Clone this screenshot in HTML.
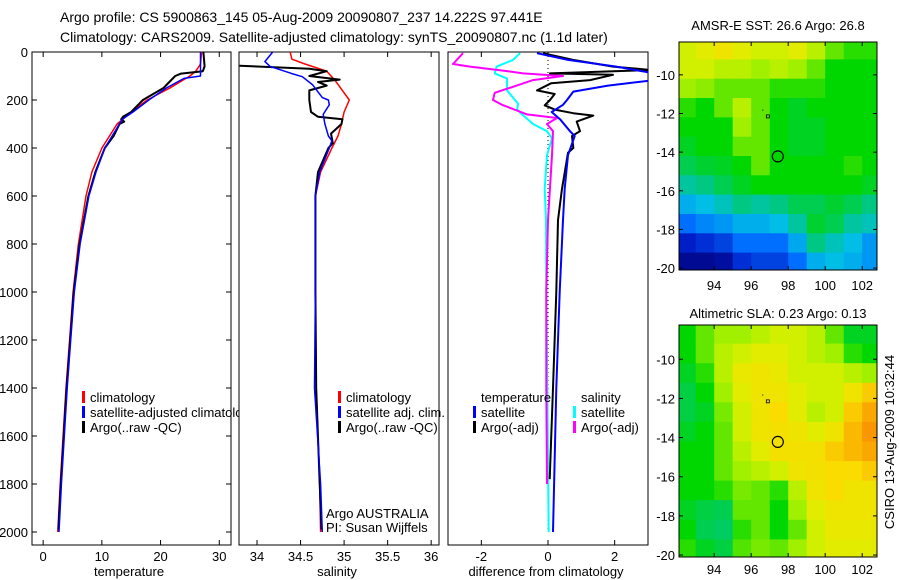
<!DOCTYPE html>
<html><head><meta charset="utf-8">
<style>
html,body{margin:0;padding:0;background:#fff;}
svg{display:block;font-family:"Liberation Sans",sans-serif;}
</style></head>
<body>
<svg id="fig" width="900" height="580" viewBox="0 0 900 580" xmlns="http://www.w3.org/2000/svg">
<text x="60" y="22" font-size="14">Argo profile: CS 5900863_145 05-Aug-2009 20090807_237 14.222S 97.441E</text>
<text x="60" y="42" font-size="14">Climatology: CARS2009. Satellite-adjusted climatology: synTS_20090807.nc (1.1d later)</text>
<g id="layer"></g>
</svg>
<script>
// ---------- data ----------
const tempDepthClim = [0,50,80,100,150,200,250,300,400,500,600,800,1000,1200,1400,1600,1800,2000];
const tempClim      = [27,26.8,26,25,21.6,17.7,15,12.6,10,8.3,7.3,6,5.1,4.5,3.9,3.4,2.9,2.5];
const tempDepthSat  = [0,100,110,150,200,250,280,400,500,600,800,1000,1200,1400,1600,1800,2000];
const tempSat       = [26.8,26.8,24,21,18,15.3,13.5,10.5,9,7.8,6.3,5.3,4.7,4.1,3.6,3.1,2.7];
const tempDepthArgo = [0,60,80,90,100,150,200,250,270,280,290,300,350,400,500,600,800,1000,1200,1400,1600,1800,1990];
const tempArgo      = [27.3,27.5,27.2,23.5,22.5,20.5,17,15,13.6,13.3,13.8,13,12,10.5,8.9,7.7,6.2,5.2,4.6,4,3.5,3,2.6];

const salDepthClim = [0,30,50,80,120,170,200,250,300,350,400,500,600,800,1000,1400,1800,2000];
const salClim      = [34.38,34.4,34.55,34.8,34.9,35.0,35.06,35.0,34.97,34.93,34.86,34.73,34.67,34.67,34.67,34.68,34.72,34.73];
const salDepthSat  = [0,40,60,90,103,137,190,200,220,260,300,350,370,400,500,600,1000,1400,1800,2000];
const salSat       = [34.18,34.09,34.15,34.4,34.52,34.64,34.75,34.82,34.83,34.76,34.78,34.82,34.86,34.83,34.72,34.67,34.67,34.66,34.73,34.75];
const salDepthArgo = [57,70,80,100,115,125,140,160,200,250,270,280,300,340,380,400,500,600,1000,1400,1800,1990];
const salArgo      = [33.8,34.6,34.8,34.6,34.95,34.7,34.8,34.6,34.6,34.62,34.7,34.98,34.97,34.85,34.87,34.82,34.7,34.67,34.67,34.68,34.72,34.74];

const dTempSatDepth = [5,33,60,89,117,140,165,200,220,250,280,330,350,430,570,700,1000,1400,2000];
const dTempSat      = [-0.33,0.6,2.0,3.2,3.2,1.8,0.76,0.57,0.45,0.11,0.36,0.66,0.8,0.6,0.5,0.45,0.35,0.25,0.15];
const dTempArgoDepth = [5,33,61,75,89,95,117,130,160,175,200,222,240,255,265,290,330,350,400,420,570,700,1000,1400,1780];
const dTempArgo      = [-0.15,0.75,1.95,3.1,0.06,1.95,1.26,0.1,-0.33,0.2,0.06,-0.1,0.2,0.76,1.36,0.86,0.96,0.72,0.76,0.6,0.42,0.3,0.25,0.15,0.05];
const dSalSatDepth = [5,33,61,89,110,160,190,215,240,260,300,330,360,430,570,700,1000,1400,2000];
const dSalSat      = [-0.84,-1.05,-1.54,-1.6,-1.23,-1.23,-1.05,-0.9,-0.92,-0.78,-0.45,-0.03,0.12,-0.03,-0.1,-0.06,-0.05,-0.02,0.02];
const dSalArgoDepth = [5,50,61,80,89,100,117,145,170,200,220,260,275,300,330,430,700,1000,1400,1800];
const dSalArgo      = [-2.55,-2.85,-2.34,-1.2,-0.75,0.45,-0.45,-1.05,-1.6,-1.65,-1.38,-0.63,0.27,-0.03,0.15,0.12,0.0,-0.05,-0.05,-0.03];

const depthTicks = [0,200,400,600,800,1000,1200,1400,1600,1800,2000];
const tempTicks = [0,10,20,30];
const salTicks = [34,34.5,35,35.5,36];
const salTickLabels = ["34","34.5","35","35.5","36"];
const diffTicks = [-2,0,2];
const lonTicks = [94,96,98,100,102];
const latTicks = [-10,-12,-14,-16,-18,-20];
const mapLons = [92.5,93.5,94.5,95.5,96.5,97.5,98.5,99.5,100.5,101.5,102.5];
const mapLats = [-8.7,-9.7,-10.7,-11.7,-12.7,-13.7,-14.7,-15.7,-16.7,-17.7,-18.7,-19.7];
const sstGrid = [
[.62,.64,.66,.64,.62,.62,.64,.6,.55,.52,.52],
[.62,.62,.6,.6,.58,.6,.58,.55,.5,.5,.5],
[.58,.57,.55,.55,.55,.52,.52,.52,.5,.5,.5],
[.52,.5,.55,.6,.55,.5,.48,.5,.5,.5,.5],
[.5,.5,.5,.58,.55,.5,.48,.48,.5,.5,.5],
[.48,.5,.5,.55,.55,.5,.48,.48,.5,.5,.5],
[.45,.47,.48,.5,.55,.5,.5,.5,.5,.52,.5],
[.4,.42,.45,.48,.5,.5,.5,.5,.5,.5,.48],
[.33,.35,.38,.42,.4,.42,.45,.45,.47,.45,.42],
[.25,.28,.3,.33,.33,.35,.4,.47,.45,.4,.38],
[.12,.15,.18,.25,.25,.25,.32,.42,.38,.35,.3],
[.04,.04,.06,.15,.18,.18,.25,.33,.35,.33,.3]];
const slaGrid = [
[.5,.55,.58,.58,.6,.62,.62,.6,.55,.48,.48],
[.5,.55,.6,.62,.64,.64,.62,.6,.58,.52,.5],
[.48,.52,.6,.65,.66,.65,.62,.62,.62,.6,.58],
[.46,.5,.58,.64,.66,.66,.64,.62,.62,.66,.7],
[.46,.48,.56,.62,.66,.68,.64,.6,.62,.7,.74],
[.48,.5,.55,.62,.66,.67,.66,.64,.66,.72,.76],
[.5,.5,.55,.6,.64,.67,.67,.67,.7,.72,.74],
[.5,.5,.55,.58,.6,.62,.66,.67,.68,.68,.7],
[.5,.5,.52,.56,.55,.52,.6,.66,.68,.66,.66],
[.48,.46,.45,.55,.55,.5,.58,.64,.66,.66,.66],
[.5,.45,.44,.52,.55,.5,.55,.62,.65,.65,.65],
[.52,.48,.46,.54,.56,.55,.58,.62,.64,.64,.64]];
const argoPos = [97.44,-14.22];

// ---------- drawing ----------
const NS="http://www.w3.org/2000/svg";
const L=document.getElementById('layer');
function mk(tag,attrs,parent){const e=document.createElementNS(NS,tag);for(const k in attrs)e.setAttribute(k,attrs[k]);(parent||L).appendChild(e);return e;}
function txt(x,y,s,size,anchor,name){const t=mk('text',{x:x,y:y,'font-size':size,'text-anchor':anchor||'start'});t.textContent=s;


return t;}
const Y=d=>52+d*0.24;
const TOP=52,BOT=545;

function panel(x0,x1,xmin,xmax,name){
  const sx=v=>x0+(v-xmin)/(xmax-xmin)*(x1-x0);
  const r=mk('rect',{x:x0,y:TOP,width:x1-x0,height:BOT-TOP,fill:'#fff',stroke:'#000','stroke-width':1});
  
  
  return sx;
}
function line(sx,depths,vals,color,w,name,clip){
  const pts=depths.map((d,i)=>sx(vals[i]).toFixed(1)+','+Y(d).toFixed(1)).join(' ');
  const p=mk('polyline',{points:pts,fill:'none',stroke:color,'stroke-width':w,'stroke-linejoin':'round'});
  if(clip)p.setAttribute('clip-path','url(#'+clip+')');
  
  
}
function xticks(sx,ticks,labels,name){
  ticks.forEach((t,i)=>{const x=sx(t);
    mk('line',{x1:x,x2:x,y1:BOT,y2:BOT-5,stroke:'#000'});
    mk('line',{x1:x,x2:x,y1:TOP,y2:TOP+5,stroke:'#000'});
    txt(x,561,labels?labels[i]:String(t),13,'middle',name+'-tick-label');});
}
function legendEntry(x,y,color,label,name){
  const b=mk('rect',{x:x,y:y-11,width:3,height:12,fill:color});
  
  
  if(label)txt(x+8,y,label,13,'start',name);
}
const defs=mk('defs',{});

// Panel 1 temperature
const sxT=panel(32,231,-1.9,32,'temperature-panel');
depthTicks.forEach(d=>{const y=Y(d);
  mk('line',{x1:32,x2:37,y1:y,y2:y,stroke:'#000'});mk('line',{x1:231,x2:226,y1:y,y2:y,stroke:'#000'});
  txt(28,y+5,String(d),13,'end','depth-tick-label');});
xticks(sxT,tempTicks,null,'temperature-axis');
line(sxT,tempDepthClim,tempClim,'#f00',1.5,'temperature-climatology-line');
line(sxT,tempDepthArgo,tempArgo,'#000',2,'temperature-argo-line');
line(sxT,tempDepthSat,tempSat,'#00f',1.5,'temperature-satellite-line');
legendEntry(82,402,'#f00','climatology','legend-climatology');
legendEntry(82,417,'#00f','satellite-adjusted climatology','legend-satellite-adjusted');
legendEntry(82,432,'#000','Argo(..raw -QC)','legend-argo-raw');
txt(129,576,'temperature',13,'middle','x-axis-title-temperature');

// Panel 2 salinity
const sxS=panel(239,439,33.793,36.09,'salinity-panel');
mk('clipPath',{id:'c2'},defs);mk('rect',{x:239,y:52,width:200,height:493},defs.lastChild);
xticks(sxS,salTicks,salTickLabels,'salinity-axis');
line(sxS,salDepthClim,salClim,'#f00',1.5,'salinity-climatology-line','c2');
line(sxS,salDepthArgo,salArgo,'#000',2,'salinity-argo-line','c2');
line(sxS,salDepthSat,salSat,'#00f',1.5,'salinity-satellite-line','c2');
legendEntry(338,402,'#f00','climatology','legend-sal-climatology');
legendEntry(338,417,'#00f','satellite adj. clim.','legend-sal-satellite');
legendEntry(338,432,'#000','Argo(..raw -QC)','legend-sal-argo');
txt(326,518,'Argo AUSTRALIA',13,'start','argo-australia-label');
txt(326,532,'PI: Susan Wijffels',13,'start','pi-label');
txt(337,576,'salinity',13,'middle','x-axis-title-salinity');

// Panel 3 difference
const sxD=panel(448,648,-3,3,'difference-panel');
mk('clipPath',{id:'c3'},defs);mk('rect',{x:448,y:52,width:200,height:493},defs.lastChild);
xticks(sxD,diffTicks,null,'difference-axis');
const z=mk('line',{x1:sxD(0),x2:sxD(0),y1:Y(0),y2:Y(2000),stroke:'#000','stroke-dasharray':'1,3'});


line(sxD,dSalSatDepth,dSalSat,'#0ff',2,'salinity-satellite-diff-line','c3');
line(sxD,dSalArgoDepth,dSalArgo,'#f0f',2,'salinity-argo-diff-line','c3');
line(sxD,dTempArgoDepth,dTempArgo,'#000',2,'temperature-argo-diff-line','c3');
line(sxD,dTempSatDepth,dTempSat,'#00f',2,'temperature-satellite-diff-line','c3');
txt(481,402,'temperature',13,'start','legend-temperature-header');
legendEntry(473,417,'#00f','satellite','legend-temp-satellite');
legendEntry(473,432,'#000','Argo(-adj)','legend-temp-argo');
txt(581,402,'salinity',13,'start','legend-salinity-header');
legendEntry(573,417,'#0ff','satellite','legend-sal-sat-diff');
legendEntry(573,432,'#f0f','Argo(-adj)','legend-sal-argo-diff');
txt(546,576,'difference from climatology',13,'middle','x-axis-title-difference');

// Maps
const cmapStops=[[0,0,0,120],[0.12,0,30,200],[0.25,0,110,255],[0.35,0,190,230],[0.42,0,200,130],[0.5,0,215,0],[0.58,160,240,0],[0.63,220,240,0],[0.68,250,220,0],[0.76,250,150,0],[1,200,0,0]];
function cmap(v){
  v=Math.max(0,Math.min(1,v));
  for(let i=1;i<cmapStops.length;i++){const a=cmapStops[i-1],b=cmapStops[i];
    if(v<=b[0]){const t=(v-a[0])/(b[0]-a[0]);
      return 'rgb('+[1,2,3].map(k=>Math.round(a[k]+(b[k]-a[k])*t)).join(',')+')';}}
  return 'rgb(200,0,0)';
}
function map(y0,y1,latTop,latBot,grid,title,name,titleY,labY){
  const x0=679,x1=877,lonL=92.1,lonR=102.8;
  const sx=v=>x0+(v-lonL)/(lonR-lonL)*(x1-x0);
  const sy=v=>y0+(latTop-v)/(latTop-latBot)*(y1-y0);
  const id='m'+name;
  mk('clipPath',{id:id},defs);mk('rect',{x:x0,y:y0,width:x1-x0,height:y1-y0},defs.lastChild);
  grid.forEach((row,i)=>row.forEach((v,j)=>{
    const xa=sx(mapLons[j]-0.5),xb=sx(mapLons[j]+0.5),ya=sy(mapLats[i]+0.5),yb=sy(mapLats[i]-0.5);
    const r=mk('rect',{x:xa.toFixed(1),y:ya.toFixed(1),width:(xb-xa+0.6).toFixed(1),height:(yb-ya+0.6).toFixed(1),fill:cmap(v),'clip-path':'url(#'+id+')'});
    
    
  }));
  const f=mk('rect',{x:x0,y:y0,width:x1-x0,height:y1-y0,fill:'none',stroke:'#000'});
  
  
  lonTicks.forEach(t=>{const x=sx(t);mk('line',{x1:x,x2:x,y1:y1,y2:y1-4,stroke:'#000'});mk('line',{x1:x,x2:x,y1:y0,y2:y0+4,stroke:'#000'});
    txt(x,labY,String(t),13,'middle',name+'-lon-label');});
  latTicks.forEach(t=>{const y=sy(t);mk('line',{x1:x0,x2:x0+4,y1:y,y2:y,stroke:'#000'});mk('line',{x1:x1,x2:x1-4,y1:y,y2:y,stroke:'#000'});
    txt(675,y+5,String(t),13,'end',name+'-lat-label');});
  const c=mk('circle',{cx:sx(argoPos[0]),cy:sy(argoPos[1]),r:5.5,fill:'none',stroke:'#000','stroke-width':1.2});
  
  
  mk('rect',{x:sx(96.9)-1.5,y:sy(-12.15)-1.5,width:3,height:3,fill:'none',stroke:'#000','stroke-width':0.8});
  mk('rect',{x:sx(96.6),y:sy(-11.8),width:1,height:1,fill:'#000'});
  txt(778,titleY,title,13,'middle',name+'-title');
}
map(42,270,-8.3,-20.1,sstGrid,'AMSR-E SST: 26.6 Argo: 26.8','sst-map',30,290);
map(325,557,-8.25,-20.1,slaGrid,'Altimetric SLA: 0.23 Argo: 0.13','sla-map',318,574);
const cs=txt(0,0,'CSIRO 13-Aug-2009 10:32:44',13,'middle','timestamp-label');
cs.setAttribute('transform','translate(894,442) rotate(-90)');
</script>
</body></html>
